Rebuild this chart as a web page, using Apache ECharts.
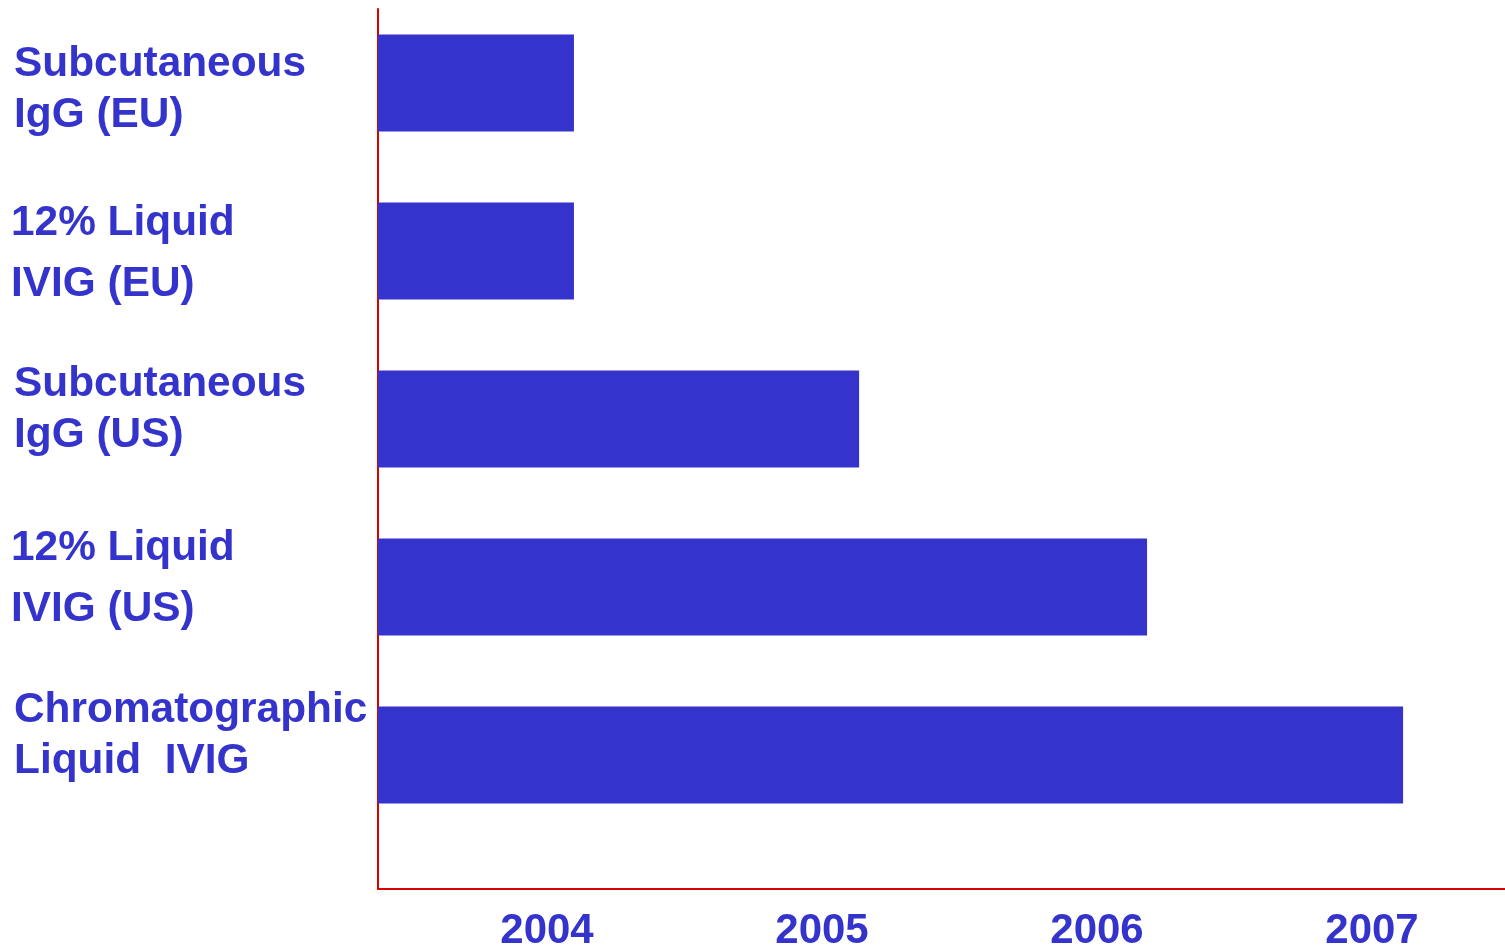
<!DOCTYPE html>
<html>
<head>
<meta charset="utf-8">
<script src="https://cdn.jsdelivr.net/npm/echarts@6/dist/echarts.min.js"></script>
<style>
html,body{margin:0;padding:0;background:#fff;}
#chart{width:1505px;height:947px;}
</style>
</head>
<body>
<div id="chart"></div>
<script>
// ---- data ----
const categories = [
  'Subcutaneous\nIgG (EU)',
  '12% Liquid\nIVIG (EU)',
  'Subcutaneous\nIgG (US)',
  '12% Liquid\nIVIG (US)',
  'Chromatographic\nLiquid  IVIG'
];
// time (fractional year) at which each bar ends
const launchYear = [2004.098, 2004.098, 2005.135, 2006.182, 2007.113];
const yearTicks = [2004, 2005, 2006, 2007];
const axisStart = 2003.3855;
const axisEnd = 2007.4836;

// ---- styling ----
const BLUE = '#3434CC';
const RED = '#DD0000';
const FONT = '"Liberation Sans", Arial, sans-serif';
// per label: text style token, spacer above, spacer below (pixel nudges)
const labelLook = [
  {tok: 'a', top: 14, bottom: 0},
  {tok: 'b', top: 6, bottom: 0},
  {tok: 'a', top: 0, bottom: 18},
  {tok: 'b', top: 0, bottom: 16},
  {tok: 'a', top: 0, bottom: 38}
];
const rich = {
  a: {lineHeight: 51, padding: [0, 0, 0, 3], color: BLUE, fontSize: 42.4, fontWeight: 'bold', fontFamily: FONT},
  b: {lineHeight: 61, color: BLUE, fontSize: 42.4, fontWeight: 'bold', fontFamily: FONT}
};
[6, 14, 16, 18, 38].forEach(h => { rich['s' + h] = {lineHeight: h, fontSize: 1, height: h}; });

function labelFormatter(value, index) {
  const look = labelLook[index];
  const lines = String(value).split('\n').map(l => '{' + look.tok + '|' + l + '}');
  if (look.top) lines.unshift('{s' + look.top + '| }');
  if (look.bottom) lines.push('{s' + look.bottom + '| }');
  return lines.join('\n');
}

const chart = echarts.init(document.getElementById('chart'), null, {renderer: 'canvas'});
chart.setOption({
  animation: false,
  backgroundColor: '#ffffff',
  grid: [
    {left: 378, right: 0, top: -1, height: 840, containLabel: false, outerBoundsMode: 'none'},
    {left: 378, right: 0, top: 9, bottom: 58, containLabel: false, outerBoundsMode: 'none'}
  ],
  xAxis: [
    {gridIndex: 0, type: 'value', min: axisStart, max: axisEnd, show: false},
    {
      gridIndex: 1, type: 'value', min: axisStart, max: axisEnd,
      axisLine: {show: true, lineStyle: {color: RED, width: 2}},
      axisTick: {show: false},
      splitLine: {show: false},
      axisLabel: {
        customValues: yearTicks,
        formatter: v => String(Math.round(v)),
        margin: 21,
        color: BLUE, fontSize: 42, fontWeight: 'bold', fontFamily: FONT
      }
    }
  ],
  yAxis: [
    {
      gridIndex: 0, type: 'category', inverse: true,
      data: categories,
      axisLine: {show: false},
      axisTick: {show: false},
      splitLine: {show: false},
      axisLabel: {
        align: 'left', margin: 367, interval: 0,
        formatter: labelFormatter,
        rich: rich,
        color: BLUE, fontSize: 42.4, fontWeight: 'bold', fontFamily: FONT
      }
    },
    {
      gridIndex: 1, type: 'value', min: 0, max: 1,
      axisLine: {show: true, onZero: false, lineStyle: {color: RED, width: 2}},
      axisTick: {show: false},
      axisLabel: {show: false},
      splitLine: {show: false}
    }
  ],
  series: [{
    type: 'bar',
    xAxisIndex: 0, yAxisIndex: 0,
    data: launchYear,
    barWidth: 97,
    itemStyle: {color: BLUE},
    z: 1
  }]
});
</script>
</body>
</html>
